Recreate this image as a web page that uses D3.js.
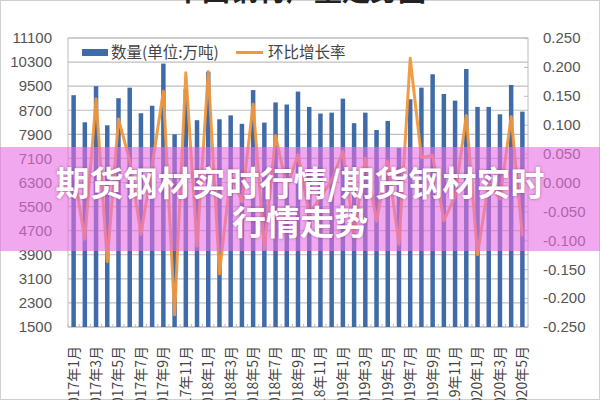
<!DOCTYPE html>
<html><head><meta charset="utf-8">
<script src="https://cdn.jsdelivr.net/npm/d3@7"></script>
<style>
html,body{margin:0;padding:0;background:#fff;}
svg{display:block;}
</style></head>
<body>
<svg id="chart" width="600" height="400"></svg>
<script>
const months = [
 "2017年1月","2017年2月","2017年3月","2017年4月","2017年5月","2017年6月","2017年7月","2017年8月","2017年9月","2017年10月","2017年11月","2017年12月",
 "2018年1月","2018年2月","2018年3月","2018年4月","2018年5月","2018年6月","2018年7月","2018年8月","2018年9月","2018年10月","2018年11月","2018年12月",
 "2019年1月","2019年2月","2019年3月","2019年4月","2019年5月","2019年6月","2019年7月","2019年8月","2019年9月","2019年10月","2019年11月","2019年12月",
 "2020年1月","2020年2月","2020年3月","2020年4月","2020年5月"];
const volume = [
 9200,8300,9500,8200,9100,9450,8600,8850,10250,7900,9400,8370,
 9980,8400,8530,8250,9370,8290,8960,8890,9320,8810,8590,8620,
 9085,8270,8620,8045,8345,7450,9065,9450,9895,9240,9020,10070,
 8810,8810,8565,9540,8655];
const growth = [
 0.020,-0.098,0.145,-0.137,0.110,0.038,-0.090,0.029,0.158,-0.229,0.190,-0.110,
 0.192,-0.158,0.015,-0.033,0.136,-0.115,0.081,-0.008,0.048,-0.055,-0.025,0.003,
 0.054,-0.090,0.042,-0.067,0.037,-0.107,0.215,0.043,0.047,-0.066,-0.024,0.116,
 -0.125,0.000,-0.028,0.114,-0.093];
const leftTicks = [1500,2300,3100,3900,4700,5500,6300,7100,7900,8700,9500,10300,11100];
const rightTicks = [-0.25,-0.2,-0.15,-0.1,-0.05,0,0.05,0.1,0.15,0.2,0.25];
const legendLabels = ["数量(单位:万吨)","环比增长率"];
const titleText = "中国钢材产量走势图";
const bannerLines = ["期货钢材实时行情/期货钢材实时","行情走势"];

const svg = d3.select("#chart");
const L = 68, R = 528, T = 38, B = 327;
const barColor = "#3f6ba9", lineColor = "#f0983e";
const numFont = "'Liberation Sans', Arial, sans-serif";
const cjkFont = "'Noto Sans CJK SC', sans-serif";

svg.append("rect").attr("x",0.5).attr("y",0.5).attr("width",599).attr("height",399)
  .attr("fill","#fff").attr("stroke","#d0d0d0");

// title (cut off at top)
svg.append("text").attr("x",300).attr("y",1).attr("text-anchor","middle")
  .attr("font-family",cjkFont).attr("font-weight",700).attr("font-size",28)
  .attr("fill","#222").text(titleText);

const x = d3.scaleBand().domain(months).range([L,R]).paddingInner(0.6).paddingOuter(0.3);
const y = d3.scaleLinear().domain([1500,11100]).range([B,T]);
const y2 = d3.scaleLinear().domain([-0.25,0.25]).range([B,T]);

// gridlines
svg.append("g").selectAll("line").data(leftTicks).join("line")
  .attr("x1",L).attr("x2",R).attr("y1",d=>y(d)).attr("y2",d=>y(d))
  .attr("stroke","#bfbfbf").attr("stroke-width",1.2);

// plot border
svg.append("rect").attr("x",L).attr("y",T).attr("width",R-L).attr("height",B-T)
  .attr("fill","none").attr("stroke","#bdbdbd").attr("stroke-width",1);

// left axis
const fmtL = d3.format("d");
const gl = svg.append("g").attr("transform",`translate(${L},0)`)
  .call(d3.axisLeft(y).tickValues(leftTicks).tickFormat(fmtL).tickSize(0).tickPadding(16));
gl.select(".domain").remove();
gl.selectAll("text").attr("font-family",numFont).attr("font-size",15).attr("fill","#555");

// right axis
const fmtR = v => d3.format(".3f")(v).replace("−","-");
const gr = svg.append("g").attr("transform",`translate(${R},0)`)
  .call(d3.axisRight(y2).tickValues(rightTicks).tickFormat(fmtR).tickSize(-4).tickPadding(15));
gr.select(".domain").remove();
gr.selectAll("line").attr("stroke","#bdbdbd");
gr.selectAll("text").attr("font-family",numFont).attr("font-size",15).attr("fill","#555");

// bars
svg.append("g").selectAll("rect").data(volume).join("rect")
  .attr("x",(d,i)=>x(months[i])).attr("width",x.bandwidth())
  .attr("y",d=>y(d)).attr("height",d=>B-y(d)).attr("fill",barColor);

// x-axis category ticks (inside)
svg.append("g").selectAll("line").data(months.concat(["end"])).join("line")
  .attr("x1",(d,i)=>L+i*(R-L)/months.length).attr("x2",(d,i)=>L+i*(R-L)/months.length)
  .attr("y1",B).attr("y2",B-3).attr("stroke","#bdbdbd");

// x labels
const gx = svg.append("g");
months.forEach((m,i)=>{
  if(i%2!==0) return;
  const cx = x(m)+x.bandwidth()/2;
  gx.append("text").attr("transform",`translate(${cx},346) rotate(-90)`)
    .attr("text-anchor","end").attr("dy","0.35em")
    .attr("font-family",cjkFont).attr("font-size",14).attr("fill","#444").text(m);
});

// growth line
const line = d3.line().x((d,i)=>x(months[i])+x.bandwidth()/2).y(d=>y2(d));
svg.append("path").datum(growth).attr("d",line).attr("fill","none")
  .attr("stroke",lineColor).attr("stroke-width",3).attr("stroke-linejoin","round").attr("opacity",0.95);

// legend
const lg = svg.append("g");
lg.append("rect").attr("x",82).attr("y",49).attr("width",26).attr("height",7).attr("fill",barColor);
lg.append("text").attr("x",111).attr("y",58).attr("font-family",cjkFont).attr("font-size",15.5)
  .attr("fill","#444").text(legendLabels[0]);
lg.append("line").attr("x1",236).attr("x2",263).attr("y1",52.5).attr("y2",52.5)
  .attr("stroke",lineColor).attr("stroke-width",3);
lg.append("text").attr("x",268).attr("y",58).attr("font-family",cjkFont).attr("font-size",15.5)
  .attr("fill","#444").text(legendLabels[1]);

// banner overlay
svg.append("rect").attr("x",0).attr("y",147).attr("width",600).attr("height",104)
  .attr("fill","rgb(233,110,226)").attr("fill-opacity",0.6);
const bt = svg.append("g").attr("font-family",cjkFont).attr("font-weight",700)
  .attr("font-size",34).attr("fill","#fff").attr("text-anchor","middle")
  .style("text-shadow","0 0 3px rgba(120,40,110,0.6)");
bt.append("text").attr("x",300).attr("y",196).text(bannerLines[0]);
bt.append("text").attr("x",300).attr("y",235).text(bannerLines[1]);
</script>
</body></html>
